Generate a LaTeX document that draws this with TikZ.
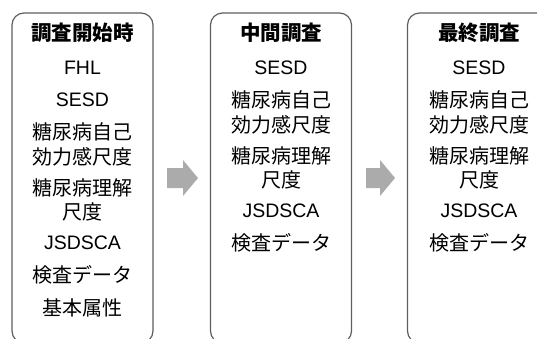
\documentclass[tikz,border=0pt]{standalone}
\usepackage{fontspec}
\setmainfont{Liberation Sans}
\newfontfamily\jp{Noto Sans CJK JP}
\definecolor{boxline}{HTML}{5E5E5E}
\definecolor{arrowgray}{HTML}{ABABAB}
\begin{document}
\begin{tikzpicture}[x=1pt,y=-1pt,
  panel/.style={draw=boxline, line width=1.2pt, rounded corners=12pt, minimum width=141pt, minimum height=330pt, inner sep=0pt},
  lat/.style={font=\fontsize{19.5}{19.5}\selectfont, inner sep=0pt, anchor=center},
  cj/.style={font=\jp\fontsize{20}{20}\selectfont, inner sep=0pt, anchor=center},
  ttl/.style={font=\jp\bfseries\fontsize{20.5}{20.5}\selectfont, inner sep=0pt, anchor=center},
  blockarrow/.style={fill=arrowgray, draw=none}]
\useasboundingbox (0,0) rectangle (537,338);
\begin{scope}
\clip (0,0) rectangle (537,338);
\node[panel] (p1) at (82.5,178) {};
\node[panel] (p2) at (281,178) {};
\node[panel] (p3) at (478,178) {};
\end{scope}
% arrows
\fill[blockarrow] (167,168) -- (183,168) -- (183,160) -- (198,178) -- (183,196) -- (183,188) -- (167,188) -- cycle;
\fill[blockarrow] (366,168) -- (380,168) -- (380,160) -- (395,178) -- (380,196) -- (380,188) -- (366,188) -- cycle;
% panel 1
\node[ttl] (t1) at (82.5,33) {調査開始時};
\node[lat] (a1) at (82.5,68) {FHL};
\node[lat] (a2) at (82.5,100) {SESD};
\node[cj] (a3) at (82.5,132) {糖尿病自己};
\node[cj] (a4) at (82.5,157) {効力感尺度};
\node[cj] (a5) at (82.5,188) {糖尿病理解};
\node[cj] (a6) at (82.5,212) {尺度};
\node[lat] (a7) at (82.5,243) {JSDSCA};
\node[cj] (a8) at (82.5,275) {検査データ};
\node[cj] (a9) at (82.5,308) {基本属性};
% panel 2
\node[ttl] (t2) at (281,33) {中間調査};
\node[lat] (b1) at (281,68) {SESD};
\node[cj] (b2) at (281,100) {糖尿病自己};
\node[cj] (b3) at (281,125) {効力感尺度};
\node[cj] (b4) at (281,156) {糖尿病理解};
\node[cj] (b5) at (281,180) {尺度};
\node[lat] (b6) at (281,211) {JSDSCA};
\node[cj] (b7) at (281,243) {検査データ};
% panel 3
\node[ttl] (t3) at (479,33) {最終調査};
\node[lat] (c1) at (479,68) {SESD};
\node[cj] (c2) at (479,100) {糖尿病自己};
\node[cj] (c3) at (479,125) {効力感尺度};
\node[cj] (c4) at (479,156) {糖尿病理解};
\node[cj] (c5) at (479,180) {尺度};
\node[lat] (c6) at (479,211) {JSDSCA};
\node[cj] (c7) at (479,243) {検査データ};
\end{tikzpicture}
\end{document}
